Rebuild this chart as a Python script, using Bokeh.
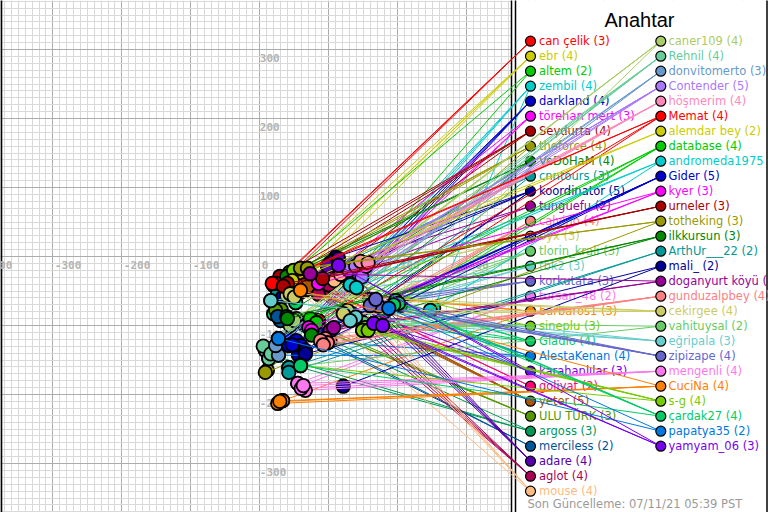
from bokeh.plotting import figure
from bokeh.models import Range1d, SingleIntervalTicker, Grid, ColumnDataSource
from bokeh.core.properties import value
from bokeh.embed import file_html
from bokeh.resources import INLINE

# ---------------- data ----------------
TITLE = "Anahtar"
FOOTER = "Son Güncelleme: 07/11/21 05:39 PST"

X_TICKS = [-400, -300, -200, -100, 0, 100, 200, 300]
Y_TICKS = [300, 200, 100, -100, -200, -300]

LEFT_PLAYERS = ["can çelik", "ebr", "altem", "zembil", "darkland", "törehan mert",
                "Seydurta", "theforce", "VeDoHaM", "cnntours", "koordinator", "tunguefu",
                "calvino", "byx", "tlorin_krali", "tbk2", "korkutata", "tursan_48",
                "barbaros1", "sineplu", "Gladio", "AlestaKenan", "karahanlılar", "goliyat",
                "yeter", "ULU TÜRK", "argoss", "merciless", "adare", "aglot", "mouse"]

RIGHT_PLAYERS = ["caner109", "Rehnil", "donvitomerto", "Contender", "höşmerim", "Memat",
                 "alemdar bey", "database", "andromeda1975", "Gider", "kyer", "urneler",
                 "totheking", "ilkkursun", "ArthUr___22", "mali_", "doganyurt köyü",
                 "gunduzalpbey", "cekirgee", "vahituysal", "eğripala", "zipizape",
                 "mengenli", "CuciNa", "s-g", "çardak27", "papatya35", "yamyam_06"]

LEFT_VILLAGES = [
    [(26, -38), (31, -39), (20, -42)],
    [(44, -29), (53, -33), (42, -43), (59, -41)],
    [(78, -93), (49, -22)],
    [(134, -39), (252, -75), (139, -43), (129, -36)],
    [(47, -125), (53, -129), (42, -120), (59, -133)],
    [(85, -39), (71, -103), (65, -99)],
    [(34, -33), (40, -39), (88, -35), (29, -29)],
    [(63, -20), (11, -165), (40, -28), (68, -25)],
    [(34, -86), (78, -110), (43, -23), (39, -29)],
    [(52, -38), (26, -54), (42, -161)],
    [(33, -59), (56, -143), (66, -141), (110, -1), (71, -32)],
    [(73, -25), (78, -45)],
    [(95, -119), (98, -125), (91, -114), (102, -123)],
    [(44, -54), (127, -78), (39, -57)],
    [(47, -96), (149, -96), (8, -136)],
    [(134, -83), (139, -88), (16, -64)],
    [(165, -67), (171, -71), (159, -62)],
    [(55, -184), (60, -188)],
    [(62, -46), (33, -209), (56, -49)],
    [(153, -103), (49, -20), (157, -100)],
    [(197, -64), (201, -68), (52, -67), (20, -83)],
    [(187, -75), (27, -119), (27, -143), (181, -80)],
    [(165, -97), (66, -49), (114, -13)],
    [(88, -45), (82, -41)],
    [(58, -36), (65, -41), (53, -43), (46, -36), (71, -43)],
    [(27, -81), (31, -77), (23, -78)],
    [(13, -148), (18, -143), (34, -90)],
    [(30, -93), (26, -87)],
    [(102, -9), (108, -6), (98, -14), (114, -3)],
    [(95, -46), (91, -51), (100, -41), (85, -55)],
    [(113, -30), (108, -35), (117, -26), (59, -52)],
]

RIGHT_VILLAGES = [
    [(53, -90), (44, -100), (149, -107), (50, -93)],
    [(8, -136), (13, -148), (5, -130), (16, -141)],
    [(27, -119), (27, -143), (23, -129)],
    [(134, -17), (143, -25), (129, -20), (139, -14), (148, -30)],
    [(150, -10), (154, -14), (146, -7), (157, -9)],
    [(23, -39), (85, -93), (100, -110), (18, -39)],
    [(53, -42), (47, -35)],
    [(73, -90), (194, -70), (204, -71), (82, -96)],
    [(131, -41), (247, -78), (140, -45)],
    [(53, -122), (59, -129), (42, -129), (66, -136), (47, -128)],
    [(71, -103), (85, -39), (75, -107)],
    [(40, -39), (34, -43), (91, -32)],
    [(8, -168), (59, -17), (69, -17)],
    [(75, -114), (39, -87), (40, -90)],
    [(42, -161), (42, -168)],
    [(121, -188), (66, -141)],
    [(102, -107), (107, -103), (73, -25)],
    [(95, -119), (98, -125), (88, -122), (92, -128)],
    [(127, -78), (121, -83), (44, -54), (50, -59)],
    [(149, -96), (59, -158)],
    [(139, -88), (131, -93), (16, -64)],
    [(165, -67), (172, -72), (160, -71), (168, -62)],
    [(55, -184), (66, -194), (60, -191), (63, -187)],
    [(26, -213), (33, -209), (29, -210), (59, -49)],
    [(153, -103), (149, -107), (157, -107), (59, -158)],
    [(197, -64), (201, -68), (194, -70), (59, -158)],
    [(187, -75), (27, -119)],
    [(165, -97), (178, -100), (114, -13)],
]

PALETTE = ["#ff0000", "#cccc00", "#00cc00", "#00cccc", "#0000cc", "#ff00ff",
           "#aa0000", "#999900", "#008800", "#009999", "#000099", "#990099",
           "#ff8080", "#cccc66", "#66cc66", "#66cccc", "#6666cc", "#ff77ee",
           "#ff8000", "#77cc00", "#00cc66", "#0077dd", "#7700ee", "#ff0077",
           "#aa5500", "#559900", "#009955", "#005599", "#5500aa", "#aa0055",
           "#ffbb80", "#aacc66", "#66cc99", "#6699cc", "#aa77ff", "#ff88bb"]

# ---------------- layout ----------------
REF_W, REF_H = 768, 512
PX_PER_UNIT = 0.69
ORIGIN_X, ORIGIN_Y = 259.3, 256.0


def ux(px):
    return (px - ORIGIN_X) / PX_PER_UNIT


def uy(py):
    return (ORIGIN_Y - py) / PX_PER_UNIT


FONT = value("DejaVu Sans")

p = figure(width=768, height=512,
           x_range=Range1d(ux(0), ux(REF_W)), y_range=Range1d(uy(REF_H), uy(0)),
           output_backend="svg", toolbar_location=None, min_border=0,
           x_axis_location=None, y_axis_location=None,
           background_fill_color="white", border_fill_color="white",
           outline_line_color=None)
p.grid.visible = False
for dim in (0, 1):
    g = Grid(dimension=dim, ticker=SingleIntervalTicker(interval=100, num_minor_ticks=10),
             grid_line_color="#acacac", grid_line_width=1,
             minor_grid_line_color="#d9d9d9", minor_grid_line_width=1)
    p.add_layout(g, "center")

# legend panel background
p.quad(left=[ux(511.5)], right=[ux(REF_W + 5)], bottom=[uy(REF_H + 5)], top=[uy(-5)],
       fill_color="white", line_color=None)

# borders
p.segment(x0=[ux(0.8), ux(511), ux(515), ux(766.5)],
          y0=[uy(-5)] * 4, x1=[ux(0.8), ux(511), ux(515), ux(766.5)],
          y1=[uy(REF_H + 5)] * 4, line_color="black", line_width=[2, 1.5, 1.5, 1.5])

# tick labels on the axes
tick_style = dict(text_font=value("DejaVu Sans Mono"), text_font_style="bold",
                  text_font_size="11px", text_color="#b4b4b4",
                  text_align="left", text_baseline="middle")
p.text(x=X_TICKS, y=[0] * len(X_TICKS), text=[str(t) for t in X_TICKS],
       x_offset=2, y_offset=8, **tick_style)
p.text(x=[0] * len(Y_TICKS), y=Y_TICKS, text=[str(t) for t in Y_TICKS],
       x_offset=0, y_offset=8, **tick_style)

# legend title + footer
p.text(x=[ux(639)], y=[uy(19)], text=[TITLE], text_font=value("Liberation Sans"),
       text_font_size="20px", text_color="black", text_align="center",
       text_baseline="middle")
p.text(x=[ux(527)], y=[uy(503)], text=[FOOTER], text_font=FONT,
       text_font_size="11.5px", text_color="#9a9a9a", text_align="left",
       text_baseline="middle")

# legend entries
players = []
for i, (name, vils) in enumerate(zip(LEFT_PLAYERS, LEFT_VILLAGES)):
    players.append((name, vils, PALETTE[i % len(PALETTE)], 530.0, 538.5, 40.7 + 15 * i))
for j, (name, vils) in enumerate(zip(RIGHT_PLAYERS, RIGHT_VILLAGES)):
    k = len(LEFT_PLAYERS) + j
    players.append((name, vils, PALETTE[k % len(PALETTE)], 660.3, 668.0, 40.7 + 15 * j))

lab = ColumnDataSource(dict(
    x=[ux(tx) for (_, _, _, _, tx, _) in players],
    y=[uy(ty) for (_, _, _, _, _, ty) in players],
    text=[f"{n} ({len(v)})" for (n, v, _, _, _, _) in players],
    color=[c for (_, _, c, _, _, _) in players]))
p.text(x="x", y="y", text="text", text_color="color", source=lab,
       text_font=FONT, text_font_size="11.5px", text_align="left",
       text_baseline="middle")

for name, vils, color, dx, tx, dy in players:
    lx, ly = ux(dx), uy(dy)
    vx = [v[0] for v in vils]
    vy = [v[1] for v in vils]
    p.segment(x0=vx, y0=vy, x1=[lx] * len(vx), y1=[ly] * len(vy),
              line_color=color, line_width=1)
    p.scatter(x=vx, y=vy, marker="circle", size=13.5, fill_color=color,
              line_color="black", line_width=1.8)
    p.scatter(x=[lx], y=[ly], marker="circle", size=10, fill_color=color,
              line_color="black", line_width=1.2)

open("out.html", "w").write(file_html(p, INLINE))
